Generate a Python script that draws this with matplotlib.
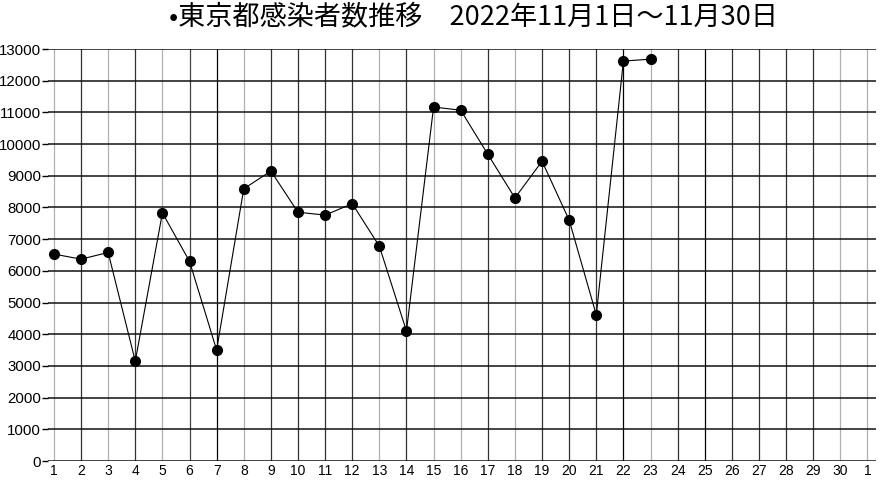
import matplotlib.pyplot as plt
import numpy as np

plt.rcParams['font.family'] = ['Noto Sans CJK JP', 'DejaVu Sans']

# days of November 2022 with data
days = list(range(1, 24))
cases = [6530, 6370, 6580, 3150, 7830, 6300, 3500, 8590, 9150, 7850,
         7760, 8120, 6780, 4100, 11170, 11070, 9680, 8300, 9460, 7600,
         4610, 12620, 12680]

# x axis: 1..30 and the 1st of December
tick_days = list(range(1, 32))
tick_labels = [str(d) for d in range(1, 31)] + ['1']
y_ticks = list(range(0, 13001, 1000))

# vertical grid line shading (scanned look)
vcolors = ['#b0b0b0', '#333333', '#b0b0b0', '#333333', '#b0b0b0', '#444444', '#000000',
           '#b0b0b0', '#333333', '#333333', '#333333', '#333333', '#b0b0b0', '#333333',
           '#b0b0b0', '#b0b0b0', '#333333', '#b0b0b0', '#333333', '#333333', '#333333',
           '#000000', '#b0b0b0', '#333333', '#000000', '#333333', '#333333', '#333333',
           '#333333', '#b0b0b0', '#b0b0b0']

fig = plt.figure(figsize=(8.8, 4.84), dpi=100)
ax = fig.add_axes([0.0545, 0.0475, 0.9405, 0.8512])
ax.set_xlim(0.78, 31.3)
ax.set_ylim(0, 13000)

for d, c in zip(tick_days, vcolors):
    ax.axvline(d, color=c, lw=0.9, zorder=1)
for v in y_ticks:
    ax.axhline(v, color='#111111', lw=1.1, zorder=1)

ax.plot(days, cases, color='black', lw=0.8, marker='o', markersize=7,
        zorder=3, clip_on=False)

for s in ax.spines.values():
    s.set_visible(False)

ax.set_yticks(y_ticks)
ax.set_yticklabels([str(v) for v in y_ticks], fontsize=10.8, family='Liberation Sans')
ax.tick_params(axis='y', length=4, width=1, pad=1)
ax.set_xticks(tick_days)
ax.set_xticklabels(tick_labels, fontsize=10, family='Liberation Sans')
ax.tick_params(axis='x', length=0, pad=2.5)

fig.text(0.538, 0.966, '•東京都感染者数推移　2022年11月1日～11月30日',
         ha='center', va='center', fontsize=19.5)

fig.savefig('out.png', dpi=100, facecolor='white')
